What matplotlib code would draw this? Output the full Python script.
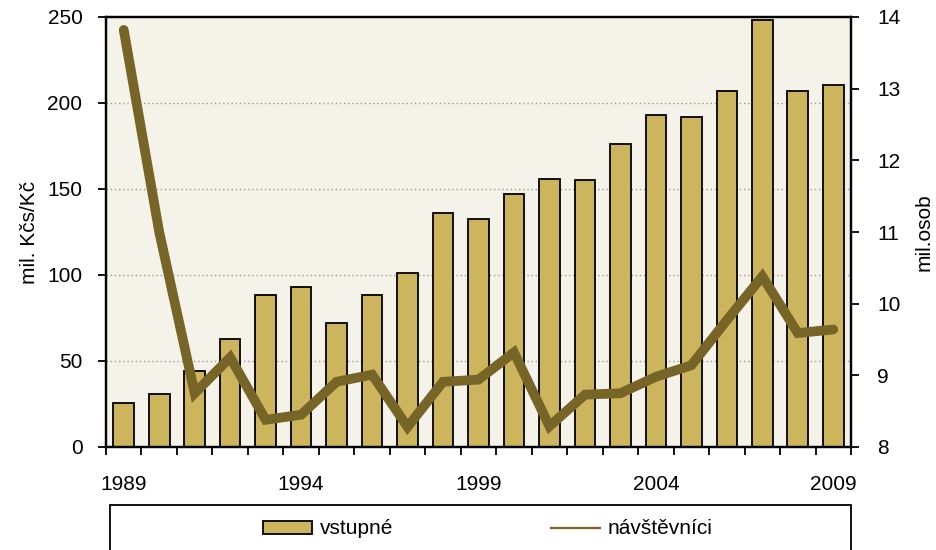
import matplotlib
matplotlib.use('Agg')
import matplotlib.pyplot as plt
from matplotlib.patches import Rectangle
from matplotlib.lines import Line2D
import numpy as np

plt.rcParams['font.family'] = ['Liberation Sans', 'DejaVu Sans']

# Roky a hodnoty
roky = list(range(1989, 2010))
vstupne = [25.5, 31, 44, 63, 88.5, 93, 72, 88.5, 101, 136, 132.5,
           147, 156, 155, 176, 193, 192, 207, 248, 207, 210.5]
navstevnici = [13.82, 11.0, 8.75, 9.25, 8.38, 8.45, 8.91, 9.01, 8.28, 8.91, 8.94,
               9.32, 8.29, 8.73, 8.75, 8.98, 9.14, 9.77, 10.38, 9.59, 9.64]
popisky_let = ['1989', '1994', '1999', '2004', '2009']

BAR_COLOR = '#CDB55E'
LINE_COLOR = '#776528'
BG_COLOR = '#F5F2E9'

fig = plt.figure(figsize=(9.37, 5.5), dpi=100)
ax = fig.add_axes([106 / 937, 1 - 447 / 550, 745 / 937, 430 / 550])
ax.set_facecolor(BG_COLOR)

x = np.arange(len(roky))
ax.bar(x, vstupne, width=0.58, color=BAR_COLOR, edgecolor='black',
       linewidth=1.3, zorder=2)

ax.set_xlim(-0.5, len(roky) - 0.5)
ax.set_ylim(0, 250)
ax.set_yticks(range(0, 251, 50))
ax.yaxis.grid(True, linestyle=(0, (1, 2)), color='#9a9a9a', linewidth=1.0, zorder=0)
ax.set_axisbelow(True)

# Ticky na hranicich kategorii, popisky uprostred sloupcu
ax.set_xticks(np.arange(-0.5, len(roky), 1.0))
ax.set_xticklabels([])
ax.set_xticks([roky.index(int(r)) for r in popisky_let], minor=True)
ax.set_xticklabels(popisky_let, minor=True)
ax.tick_params(axis='x', which='major', length=6, width=1.3, direction='out')
ax.tick_params(axis='x', which='minor', length=0, pad=20, labelsize=15)
ax.tick_params(axis='y', length=6, width=1.3, direction='out', labelsize=15, pad=11)
for s in ax.spines.values():
    s.set_linewidth(1.6)
ax.set_ylabel('mil. Kčs/Kč', fontsize=15, labelpad=6)

ax2 = ax.twinx()
ax2.plot(x, navstevnici, color=LINE_COLOR, linewidth=7, solid_capstyle='round',
         solid_joinstyle='miter', zorder=3)
ax2.set_ylim(8, 14)
ax2.set_yticks(range(8, 15))
ax2.tick_params(axis='y', length=6, width=1.3, direction='out', labelsize=15, pad=13)
for s in ax2.spines.values():
    s.set_linewidth(1.6)
ax2.set_ylabel('mil.osob', fontsize=15, labelpad=10, rotation=90)

# Ramecek legendy
fig.add_artist(Rectangle((110 / 937, -0.05), 741 / 937, 0.05 + 1 - 505 / 550,
                         transform=fig.transFigure, fill=False,
                         edgecolor='black', linewidth=1.3, clip_on=False))

handles = [Rectangle((0, 0), 1, 1, facecolor=BAR_COLOR, edgecolor='black', linewidth=1.3),
           Line2D([], [], color=LINE_COLOR, linewidth=1.6)]
fig.legend(handles, ['vstupné', 'návštěvníci'], loc='center left',
           bbox_to_anchor=(253 / 937, 1 - 529 / 550), ncol=2, frameon=False,
           borderpad=0, fontsize=15, handlelength=2.35, handleheight=0.6,
           handletextpad=0.35, columnspacing=7.6)

fig.savefig('out.png', dpi=100)
